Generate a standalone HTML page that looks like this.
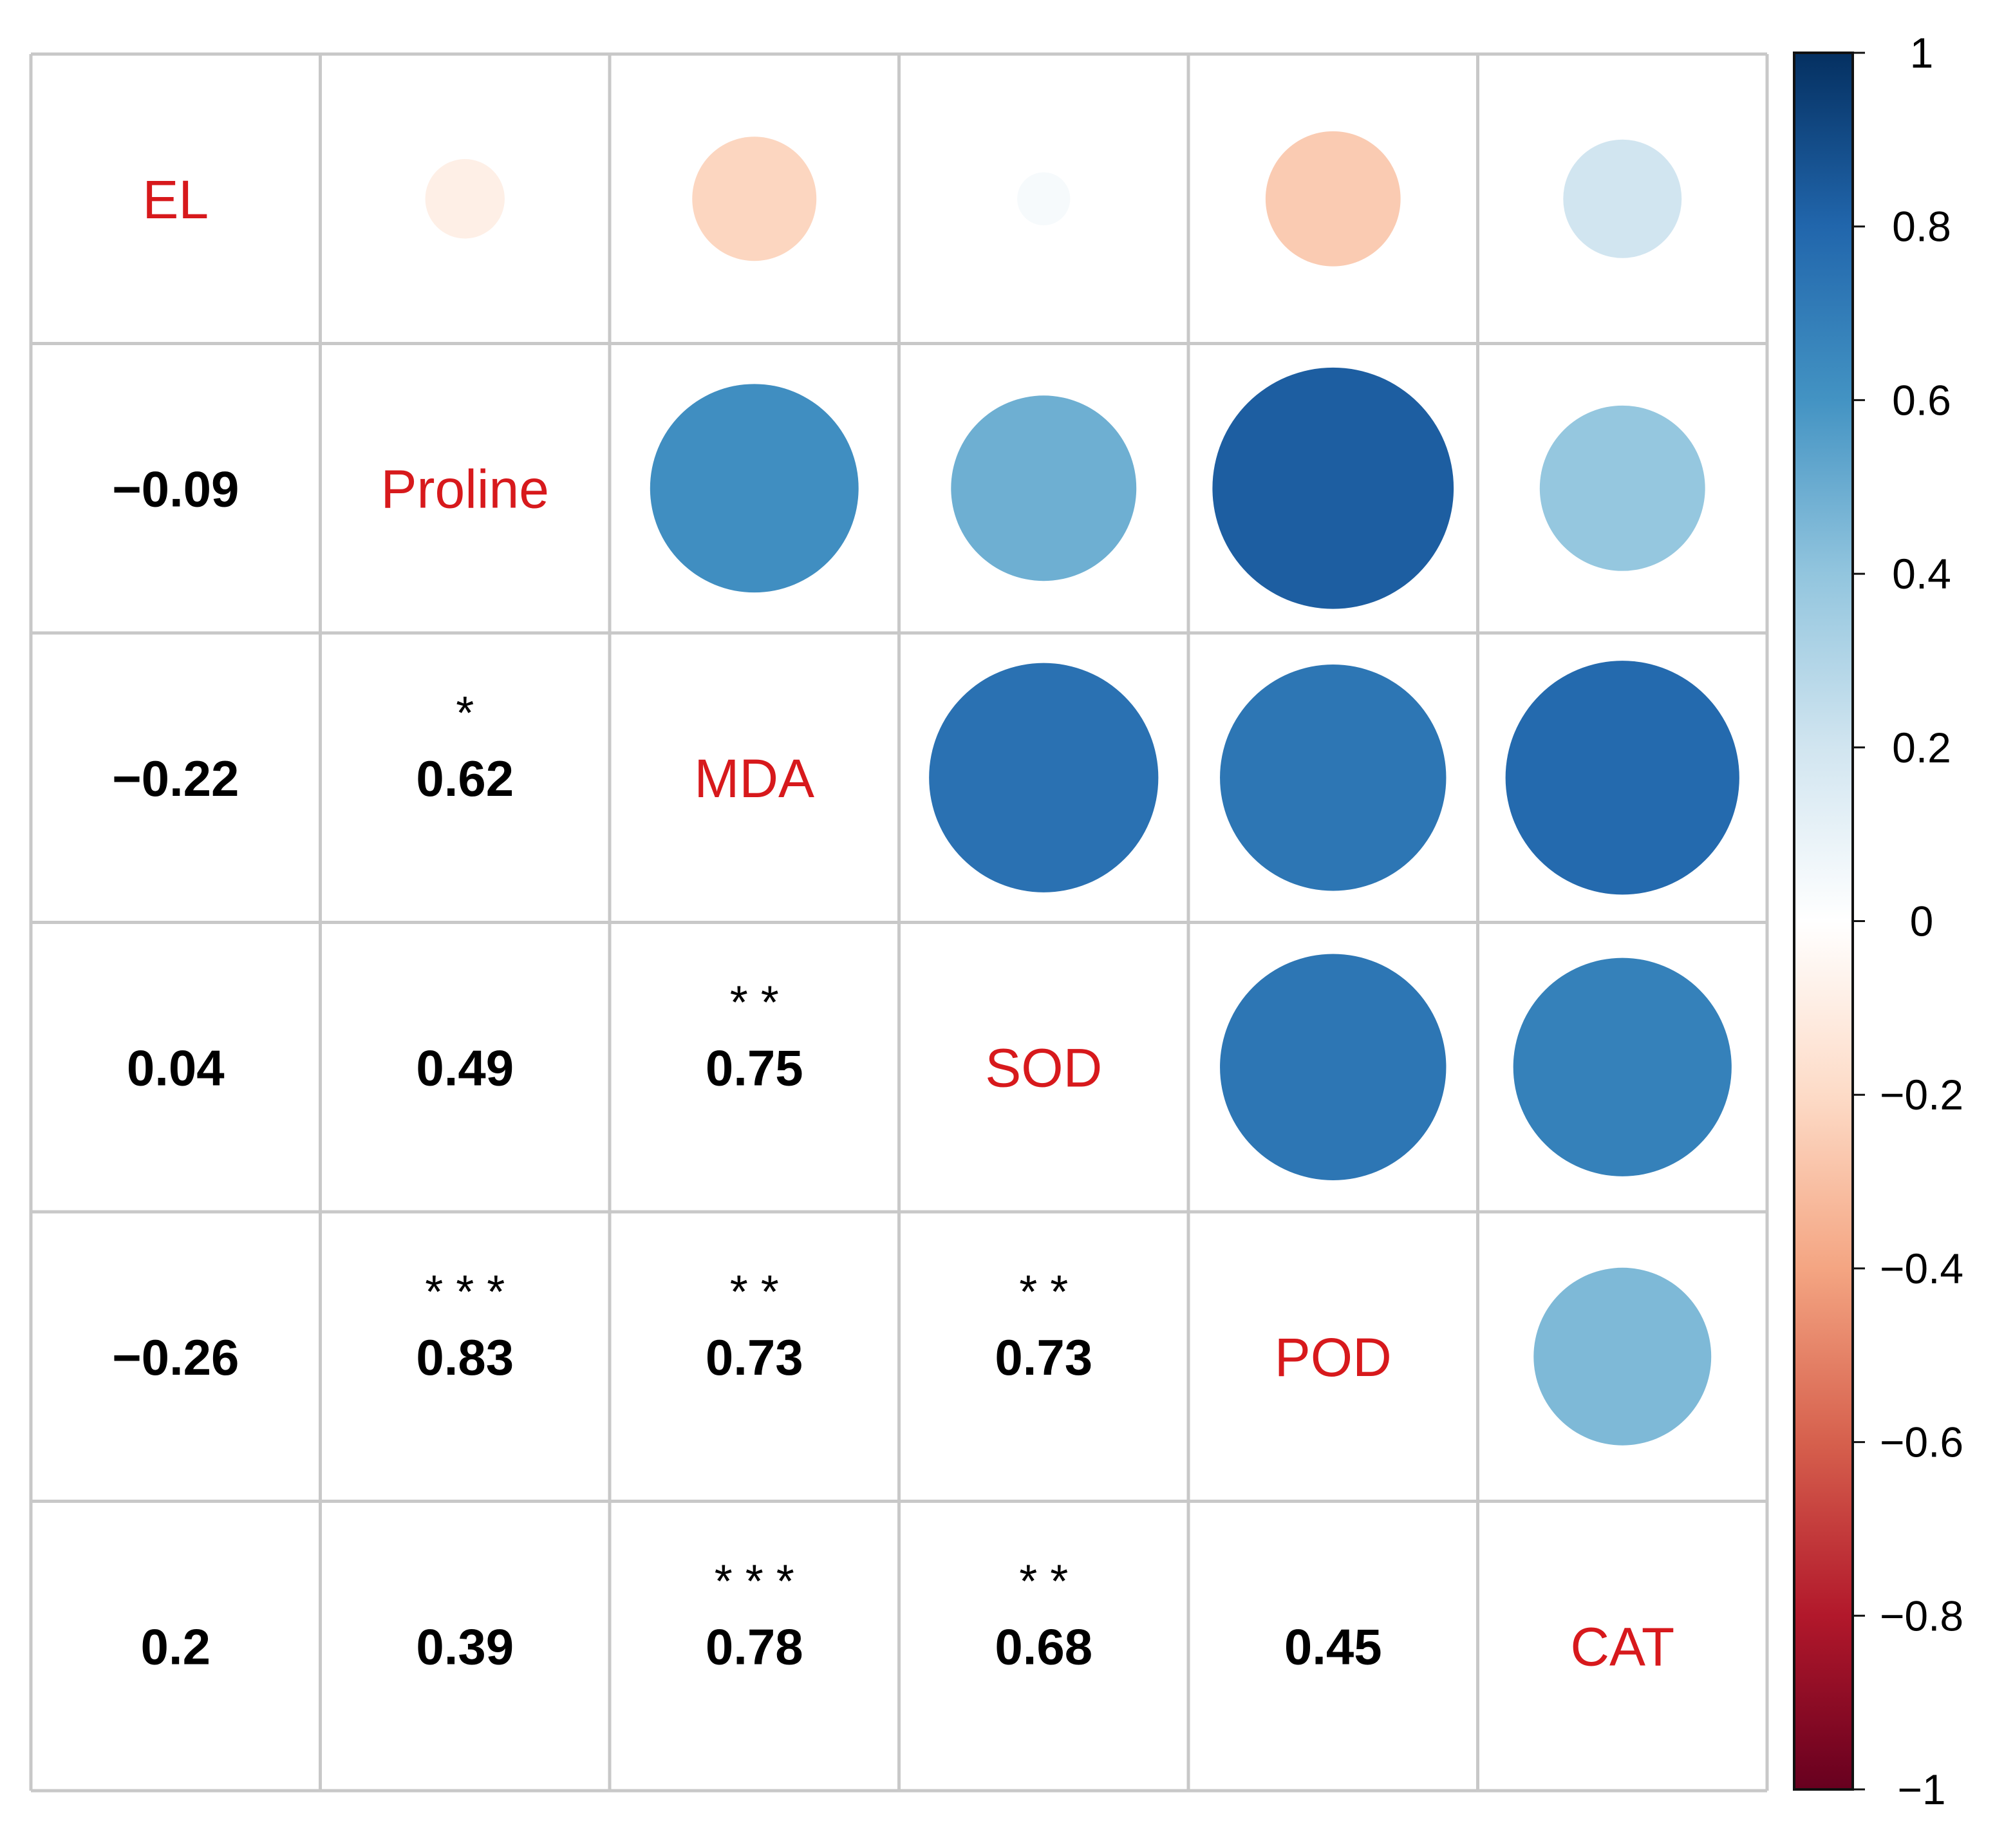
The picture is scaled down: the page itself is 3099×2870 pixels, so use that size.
<!DOCTYPE html>
<html><head><meta charset="utf-8"><style>
html,body{margin:0;padding:0;background:#fff;}
svg{display:block;}
text{font-family:"Liberation Sans",Arial,sans-serif;}
</style></head><body>
<svg id="chart" width="3099" height="2870" viewBox="0 0 3099 2870" xmlns="http://www.w3.org/2000/svg">
<defs>
<linearGradient id="cbgrad" x1="0" y1="0" x2="0" y2="1">
<stop offset="0" stop-color="#053061"/><stop offset="0.1" stop-color="#2166AC"/><stop offset="0.2" stop-color="#4393C3"/><stop offset="0.3" stop-color="#92C5DE"/><stop offset="0.4" stop-color="#D1E5F0"/><stop offset="0.5" stop-color="#FFFFFF"/><stop offset="0.6" stop-color="#FDDBC7"/><stop offset="0.7" stop-color="#F4A582"/><stop offset="0.8" stop-color="#D6604D"/><stop offset="0.9" stop-color="#B2182B"/><stop offset="1" stop-color="#67001F"/>
</linearGradient>
</defs>
<g id="cells"></g>
<g id="grid"></g>
<g id="colorbar"></g>
</svg>
<script>
const variables = ["EL","Proline","MDA","SOD","POD","CAT"];
const corrRows = [
  [1, -0.09, -0.22, 0.04, -0.26, 0.2],
  [-0.09, 1, 0.62, 0.49, 0.83, 0.39],
  [-0.22, 0.62, 1, 0.75, 0.73, 0.78],
  [0.04, 0.49, 0.75, 1, 0.73, 0.68],
  [-0.26, 0.83, 0.73, 0.73, 1, 0.45],
  [0.2, 0.39, 0.78, 0.68, 0.45, 1]
];
const sigRows = [
  ["","","","","",""],
  ["","","","","",""],
  ["","*","","","",""],
  ["","","* *","","",""],
  ["","* * *","* *","* *","",""],
  ["","","* * *","* *","",""]
];
const cbTicks = [1,0.8,0.6,0.4,0.2,0,-0.2,-0.4,-0.6,-0.8,-1];
const cbTickLabels = ["1","0.8","0.6","0.4","0.2","0","\u22120.2","\u22120.4","\u22120.6","\u22120.8","\u22121"];

const NS="http://www.w3.org/2000/svg";
const gx0=48, gy0=84, cell=449.5, n=variables.length;
const palette=["#67001F","#B2182B","#D6604D","#F4A582","#FDDBC7","#FFFFFF","#D1E5F0","#92C5DE","#4393C3","#2166AC","#053061"];
function hex(h){return [1,3,5].map(i=>parseInt(h.substr(i,2),16));}
function colorOf(v){
  const t=(v+1)/2*(palette.length-1);const i=Math.min(Math.floor(t),palette.length-2);const f=t-i;
  const a=hex(palette[i]),b=hex(palette[i+1]);
  return "rgb("+a.map((c,k)=>Math.round(c+(b[k]-c)*f)).join(",")+")";
}
function cx(j){return gx0+(j+0.5)*cell;}
function cy(i){return gy0+(i+0.5)*cell;}
function mk(tag,attrs,parent,txt){const e=document.createElementNS(NS,tag);for(const k in attrs)e.setAttribute(k,attrs[k]);if(txt!==undefined)e.textContent=txt;parent.appendChild(e);return e;}
function fmt(v){return (v<0?"\u2212":"")+String(Math.abs(v));}

const cells=document.getElementById("cells");
for(let i=0;i<n;i++){for(let j=0;j<n;j++){
  const v=corrRows[i][j];
  if(i===j){
    const t=mk("text",{x:cx(j),y:cy(i)+30,"text-anchor":"middle","font-size":84,fill:"#D7191C"},cells,variables[i]);
    
    
  } else if(j>i){
    const c=mk("circle",{cx:cx(j),cy:cy(i),r:0.4575*Math.sqrt(Math.abs(v))*cell,fill:colorOf(v)},cells);
    
    
  } else {
    const t=mk("text",{x:cx(j),y:cy(i)+28,"text-anchor":"middle","font-size":78,"font-weight":"bold",fill:"#000"},cells,fmt(v));
    
    
    const s=sigRows[i][j];
    if(s){
      const st=mk("text",{x:cx(j),y:cy(i)-76,"text-anchor":"middle","font-size":72,fill:"#000"},cells,s);
      
      
    }
  }
}}
const grid=document.getElementById("grid");
for(let k=0;k<=n;k++){
  const p=gx0+k*cell, q=gy0+k*cell;
  const l1=mk("line",{x1:p,y1:gy0,x2:p,y2:gy0+n*cell,stroke:"#c8c8c8","stroke-width":5},grid);
  
  
  const l2=mk("line",{x1:gx0,y1:q,x2:gx0+n*cell,y2:q,stroke:"#c8c8c8","stroke-width":5},grid);
  
  
}
const cb=document.getElementById("colorbar");
const cbx=2787,cbw=91,cbt=82,cbb=2779;
function cbY(v){return cbt+(1-v)/2*(cbb-cbt);}
const rect=mk("rect",{x:cbx,y:cbt,width:cbw,height:cbb-cbt,fill:"url(#cbgrad)",stroke:"#111","stroke-width":4},cb);


cbTicks.forEach((v,k)=>{
  const y=cbY(v);
  const tl=mk("line",{x1:cbx+cbw,y1:y,x2:cbx+cbw+19,y2:y,stroke:"#111","stroke-width":3},cb);
  
  
  const t=mk("text",{x:2985,y:y+23,"text-anchor":"middle","font-size":66,fill:"#000"},cb,cbTickLabels[k]);
  
  
});
</script>
</body></html>
